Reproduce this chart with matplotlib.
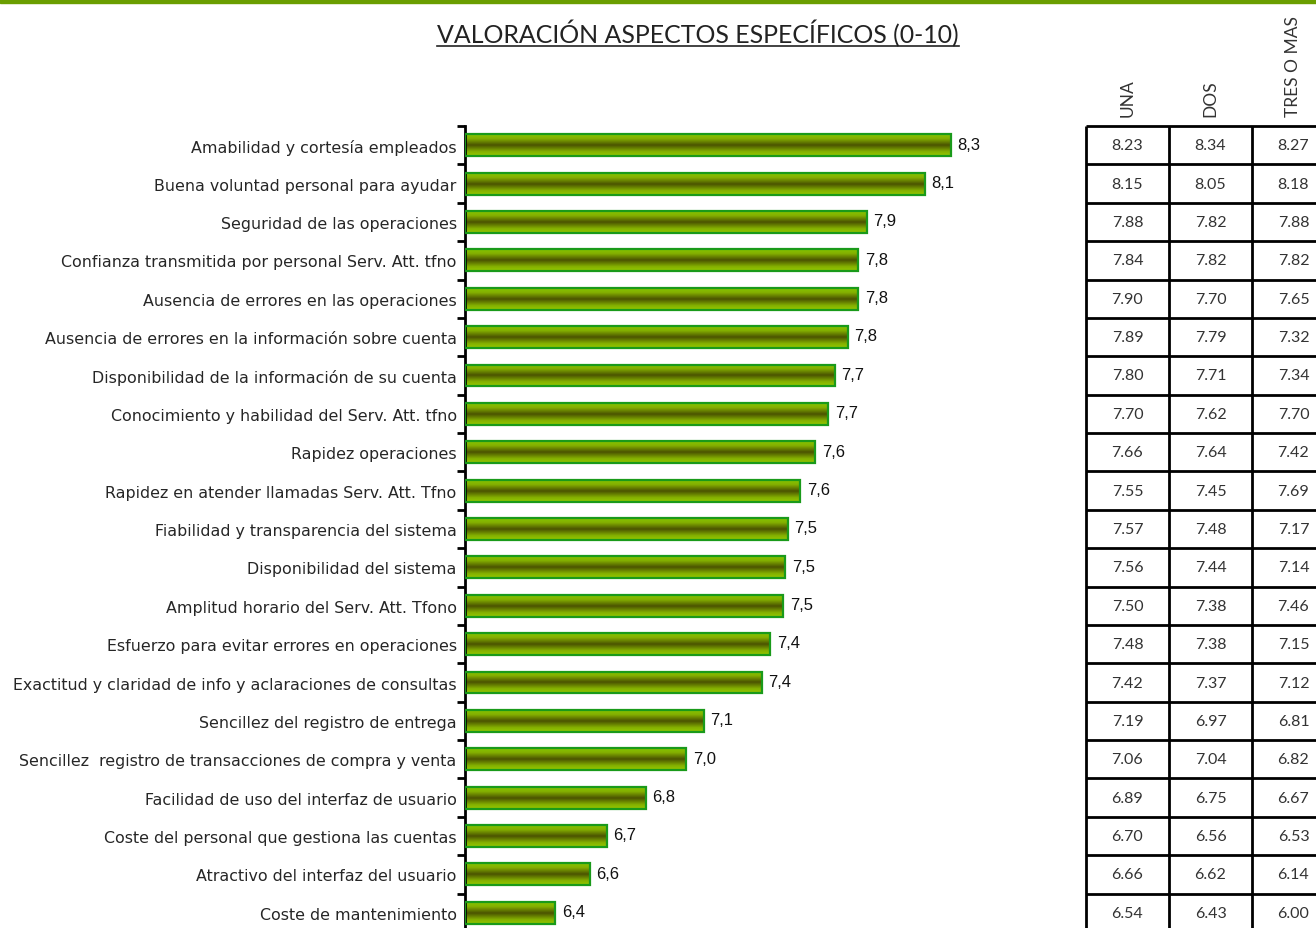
import numpy as np
import matplotlib
matplotlib.use('Agg')
import matplotlib.pyplot as plt
from matplotlib.colors import LinearSegmentedColormap
from matplotlib.lines import Line2D
from matplotlib.patches import Rectangle

categories = [
    "Amabilidad y cortesía empleados",
    "Buena voluntad personal para ayudar",
    "Seguridad de las operaciones",
    "Confianza transmitida por personal Serv. Att. tfno",
    "Ausencia de errores en las operaciones",
    "Ausencia de errores en la información sobre cuenta",
    "Disponibilidad de la información de su cuenta",
    "Conocimiento y habilidad del Serv. Att. tfno",
    "Rapidez operaciones",
    "Rapidez en atender llamadas Serv. Att. Tfno",
    "Fiabilidad y transparencia del sistema",
    "Disponibilidad del sistema",
    "Amplitud horario del Serv. Att. Tfono",
    "Esfuerzo para evitar errores en operaciones",
    "Exactitud y claridad de info y aclaraciones de consultas",
    "Sencillez del registro de entrega",
    "Sencillez  registro de transacciones de compra y venta",
    "Facilidad de uso del interfaz de usuario",
    "Coste del personal que gestiona las cuentas",
    "Atractivo del interfaz del usuario",
    "Coste de mantenimiento",
]
values = [8.26, 8.14, 7.87, 7.83, 7.83, 7.78, 7.72, 7.69, 7.63, 7.56, 7.50,
          7.49, 7.48, 7.42, 7.38, 7.11, 7.03, 6.84, 6.66, 6.58, 6.42]

columns = ["UNA", "DOS", "TRES O MAS"]
una = [8.23, 8.15, 7.88, 7.84, 7.90, 7.89, 7.80, 7.70, 7.66, 7.55, 7.57,
       7.56, 7.50, 7.48, 7.42, 7.19, 7.06, 6.89, 6.70, 6.66, 6.54]
dos = [8.34, 8.05, 7.82, 7.82, 7.70, 7.79, 7.71, 7.62, 7.64, 7.45, 7.48,
       7.44, 7.38, 7.38, 7.37, 6.97, 7.04, 6.75, 6.56, 6.62, 6.43]
tres = [8.27, 8.18, 7.88, 7.82, 7.65, 7.32, 7.34, 7.70, 7.42, 7.69, 7.17,
        7.14, 7.46, 7.15, 7.12, 6.81, 6.82, 6.67, 6.53, 6.14, 6.00]

title = "VALORACIÓN ASPECTOS ESPECÍFICOS (0-10)"

W, H = 1316, 929
fig = plt.figure(figsize=(W / 100, H / 100), dpi=100)


def fx(px):
    return px / W


def fy(py):
    return 1 - py / H


n = len(categories)
top_px, bot_px = 127, 933
ax = fig.add_axes([fx(465), fy(bot_px), fx(1060 - 465), (bot_px - top_px) / H])

xmin = 6.0
xmax = xmin + (1060 - 465) / 215.0
bar_h = 0.57

cmap = LinearSegmentedColormap.from_list(
    "bar", [(0.0, "#86c400"), (0.2, "#84b000"), (0.5, "#4a5200"),
            (0.8, "#84b000"), (1.0, "#94c800")])
grad = np.linspace(0, 1, 64)[:, None]

for i, v in enumerate(values):
    ax.imshow(grad, extent=[xmin, v, i + bar_h / 2, i - bar_h / 2],
              aspect='auto', cmap=cmap, zorder=2, interpolation='bilinear')
ax.barh(range(n), [v - xmin for v in values], left=xmin, height=bar_h,
        fill=False, edgecolor="#1a9a1a", linewidth=1.6, zorder=3)

for i, v in enumerate(values):
    ax.text(v + 0.03, i - 0.03, f"{v:.1f}".replace('.', ','), va='center', ha='left',
            fontsize=12, family='Liberation Sans', color='#111111')

ax.set_xlim(xmin, xmax)
ax.set_ylim(n - 0.5, -0.5)
ax.set_yticks(range(n))
ax.set_yticklabels(categories, fontsize=11.4, color='#262626', family='DejaVu Sans')
ax.set_yticks(np.arange(-0.5, n, 1), minor=True)
ax.tick_params(axis='y', which='major', length=0, pad=6)
ax.tick_params(axis='y', which='minor', length=6, width=2, direction='out', color='black')
ax.set_xticks([])
for s in ['top', 'right', 'bottom']:
    ax.spines[s].set_visible(False)
ax.spines['left'].set_linewidth(2)
ax.set_facecolor('none')

# table
tax = fig.add_axes([fx(1086), fy(bot_px), fx(1335 - 1086), (bot_px - top_px) / H])
tax.set_xlim(0, 3)
tax.set_ylim(n, 0)
tax.axis('off')
tax.hlines(range(n + 1), 0, 3, color='black', linewidth=2, clip_on=False)
tax.vlines(range(4), 0, n, color='black', linewidth=2, clip_on=False)
for j, col in enumerate([una, dos, tres]):
    for i, v in enumerate(col):
        tax.text(j + 0.5, i + 0.5, f"{v:.2f}", ha='center', va='center',
                 fontsize=11.5, family='Lato', color='#333333')
for j, name in enumerate(columns):
    tax.text(j + 0.5, -0.25, name, rotation=90, ha='center', va='bottom',
             fontsize=12.5, family='Lato', color='#333333')

# top green band
fig.add_artist(Rectangle((0, fy(3.5)), 1, 3.5 / H, transform=fig.transFigure,
                         color='#6a9e00', zorder=10))

t = fig.text(fx(698), fy(43), title, ha='center', va='baseline', fontsize=17.9,
             family='Lato', color='#222222')
fig.canvas.draw()
bb = t.get_window_extent()
uy = fy(47)
fig.add_artist(Line2D([bb.x0 / W, bb.x1 / W], [uy, uy], transform=fig.transFigure,
                      color='#222222', linewidth=1.2))

fig.savefig('out.png', dpi=100)
